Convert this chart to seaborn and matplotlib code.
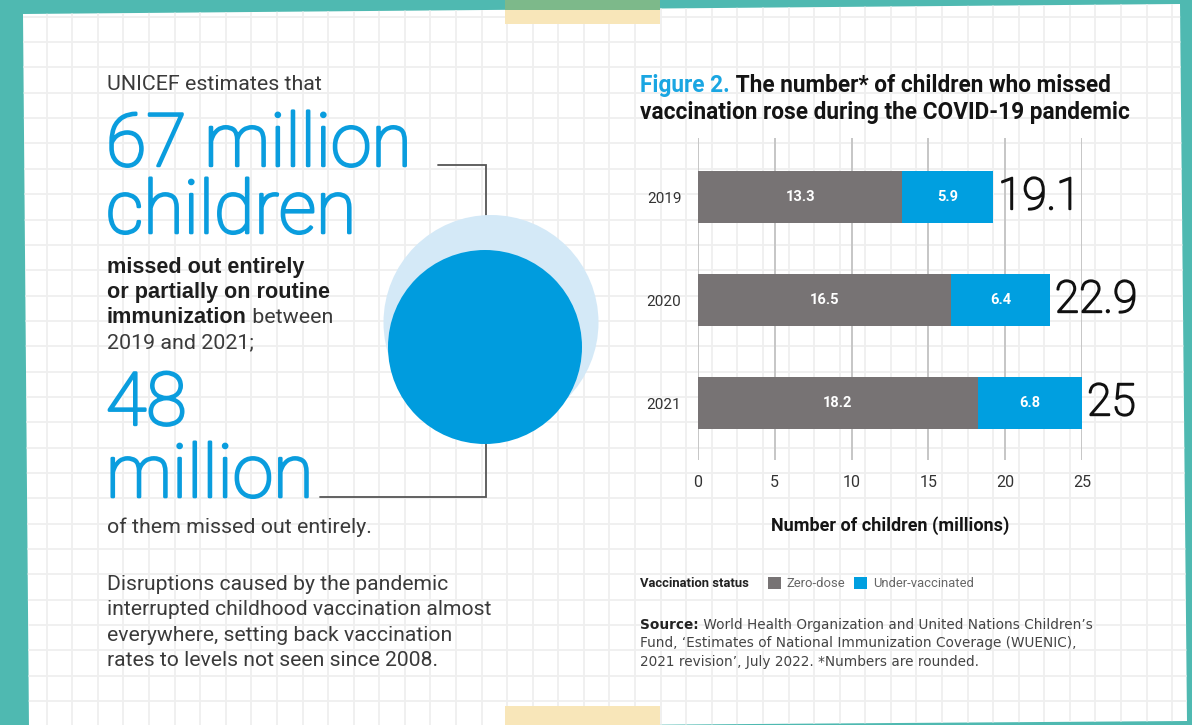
import numpy as np
import pandas as pd
import matplotlib
matplotlib.use("Agg")
import matplotlib.pyplot as plt
import matplotlib.patheffects as pe
from matplotlib.patches import Polygon, Circle, Rectangle
import seaborn as sns

# ---- data -------------------------------------------------------------
years = ["2019", "2020", "2021"]
zero_dose = [13.3, 16.5, 18.2]
under_vaccinated = [5.9, 6.4, 6.8]
total_labels = ["19.1", "22.9", "25"]
x_ticks = [0, 5, 10, 15, 20, 25]
legend_labels = ["Zero-dose", "Under-vaccinated"]

# ---- style ------------------------------------------------------------
sns.set_theme(style="white")
plt.rcParams["font.family"] = ["Roboto", "DejaVu Sans"]

TEAL = "#4FB9B1"
BLUE = "#009FE0"
TEXT_BLUE = "#0A9DDE"
GREY = "#777374"
DARK = "#3A3A3A"
PAPER_GRID = "#EFEFEF"
WIDE = ["DejaVu Sans"]
HEAVY = ["Liberation Sans", "DejaVu Sans"]


def light_stroke(color, width):
    """Thicken a thin face slightly so it reads as a light weight."""
    return [pe.withStroke(linewidth=width, foreground=color)]


fig = plt.figure(figsize=(11.92, 7.25), dpi=100)
fig.patch.set_facecolor(TEAL)

# full-figure canvas in pixel units (y downwards)
bg = fig.add_axes([0, 0, 1, 1])
bg.set_xlim(0, 1192)
bg.set_ylim(725, 0)
bg.axis("off")

paper = Polygon([(23, 14), (1180, 4), (1187, 721), (29, 729)], closed=True,
                fc="white", ec="none", zorder=0)
bg.add_patch(paper)

# squared notebook paper
for gx in np.arange(46.7, 1192, 25.58):
    ln, = bg.plot([gx, gx], [0, 725], color=PAPER_GRID, lw=1.3, zorder=1)
    ln.set_clip_path(paper)
for gy in np.arange(16.7, 725, 25.35):
    ln, = bg.plot([0, 1192], [gy, gy], color=PAPER_GRID, lw=1.3, zorder=1)
    ln.set_clip_path(paper)

# tape strips
bg.add_patch(Rectangle((505, 0), 155, 10, fc="#7DB98A", ec="none", zorder=10))
bg.add_patch(Rectangle((505, 10), 155, 14, fc="#F8E6B9", ec="none", zorder=10))
bg.add_patch(Rectangle((505, 706), 155, 19, fc="#F8E6B9", ec="none", zorder=10))

renderer = fig.canvas.get_renderer()


def text_runs(x, y, parts, **common):
    """Draw consecutive text pieces on one baseline."""
    for s, style in parts:
        kw = {**common, **style}
        t = bg.text(x, y, s, va="baseline", ha="left", zorder=5, **kw)
        x += t.get_window_extent(renderer=renderer).width


# ---- left-hand story -----------------------------------------------------
body = dict(fontsize=15.4, color=DARK)
bold_body = dict(fontsize=15.6, color="#1E1E1E", fontweight="bold", family=HEAVY)
big = dict(fontsize=53, color=TEXT_BLUE, fontweight=100,
           path_effects=light_stroke(TEXT_BLUE, 1.9))

# two-line headline figures (baseline given for the last line)
bg.text(106, 233, "67 million\nchildren", va="baseline", linespacing=0.93, **big)
bg.text(106, 497, "48\nmillion", va="baseline", linespacing=1.02, **big)

bg.text(107, 90, "UNICEF estimates that", va="baseline", **body)
bg.text(107, 273, "missed out entirely", va="baseline", **bold_body)
bg.text(107, 298, "or partially on routine", va="baseline", **bold_body)
text_runs(107, 323, [("immunization", bold_body),
                     (" between", body)])
bg.text(107, 348, "2019 and 2021;", va="baseline", **body)
bg.text(107, 533, "of them missed out entirely.", va="baseline", **body)

paragraph = ["Disruptions caused by the pandemic",
             "interrupted childhood vaccination almost",
             "everywhere, setting back vaccination",
             "rates to levels not seen since 2008."]
for i, line in enumerate(paragraph):
    bg.text(107, 590 + 25.4 * i, line, va="baseline", fontsize=15.2, color=DARK)

# bubbles and connectors
bg.plot([438, 486, 486], [165, 165, 260], color="#555555", lw=1.3,
        solid_joinstyle="miter", zorder=2)
bg.plot([486, 486, 320], [420, 497, 497], color="#555555", lw=1.3,
        solid_joinstyle="miter", zorder=2)
bg.add_patch(Circle((491, 322.5), 107.5, fc="#D4E9F7", ec="none", zorder=3))
bg.add_patch(Circle((485, 347), 97, fc="#009CDE", ec="none", zorder=4))

# ---- chart title ---------------------------------------------------------
title_kw = dict(fontsize=16.3, fontweight="bold", color="#141414")
text_runs(640, 92, [("Figure 2.", {**title_kw, "color": "#1AA6E2"}),
                    (" The number* of children who missed", title_kw)])
bg.text(640, 119, "vaccination rose during the COVID-19 pandemic",
        va="baseline", **title_kw)

# ---- stacked bar chart ---------------------------------------------------
ax = fig.add_axes([698 / 1192, (725 - 460) / 725, 384 / 1192, 322 / 725])
ax.set_facecolor("none")
ax.set_zorder(5)

df = pd.DataFrame({"year": years, "zero": zero_dose, "under": under_vaccinated})

sns.barplot(data=df, x="zero", y="year", orient="h", color=GREY, width=0.5,
            errorbar=None, saturation=1, linewidth=0, ax=ax)
sns.barplot(data=df, x="under", y="year", orient="h", color=BLUE, width=0.5,
            errorbar=None, saturation=1, linewidth=0, ax=ax,
            left=df["zero"].to_numpy())

for i, (z, u, tot) in enumerate(zip(zero_dose, under_vaccinated, total_labels)):
    ax.text(z / 2, i, f"{z}", ha="center", va="center", color="white",
            fontsize=10.5, fontweight="bold")
    ax.text(z + u / 2, i, f"{u}", ha="center", va="center", color="white",
            fontsize=10.5, fontweight="bold")
    ax.text(z + u + 0.33, i, tot, ha="left", va="center", color="#111111",
            fontsize=32, fontweight=100, clip_on=False,
            path_effects=light_stroke("#111111", 1.3))

ax.set_xlim(0, 25)
ax.set_ylim(2.553, -0.573)
ax.set_xticks(x_ticks)
ax.set_xticklabels([str(t) for t in x_ticks])
ax.grid(axis="x", color="#C6C6C6", lw=1.4)
ax.grid(axis="y", visible=False)
ax.set_axisbelow(True)
for sp in ax.spines.values():
    sp.set_visible(False)
ax.tick_params(axis="x", length=0, pad=11, labelsize=11.5, labelcolor="#333333")
ax.tick_params(axis="y", length=0, pad=12, labelsize=11, labelcolor="#333333")
ax.set_ylabel("")
ax.set_xlabel("Number of children (millions)", fontsize=13, fontweight="bold",
              color="#141414", labelpad=19)

# ---- legend row ------------------------------------------------------------
bg.text(640, 587, "Vaccination status", va="baseline", fontsize=9.4,
        fontweight="bold", color="#222222")
bg.add_patch(Rectangle((768, 577), 13, 12, fc=GREY, ec="none", zorder=5))
bg.text(786, 587, legend_labels[0], va="baseline", fontsize=9.4, color="#666666")
bg.add_patch(Rectangle((854, 577), 13, 12, fc=BLUE, ec="none", zorder=5))
bg.text(873, 587, legend_labels[1], va="baseline", fontsize=9.4, color="#666666")

# ---- source note -----------------------------------------------------------
src_kw = dict(fontsize=9.8, color="#444444", family=WIDE)
text_runs(640, 629, [("Source:", {**src_kw, "fontweight": "bold", "color": "#222222"}),
                     (" World Health Organization and United Nations Children\u2019s", src_kw)])
bg.text(640, 647, "Fund, \u2018Estimates of National Immunization Coverage (WUENIC),",
        va="baseline", **src_kw)
bg.text(640, 666, "2021 revision\u2019, July 2022. *Numbers are rounded.",
        va="baseline", **src_kw)

fig.savefig("out.png", dpi=100, facecolor=TEAL)
